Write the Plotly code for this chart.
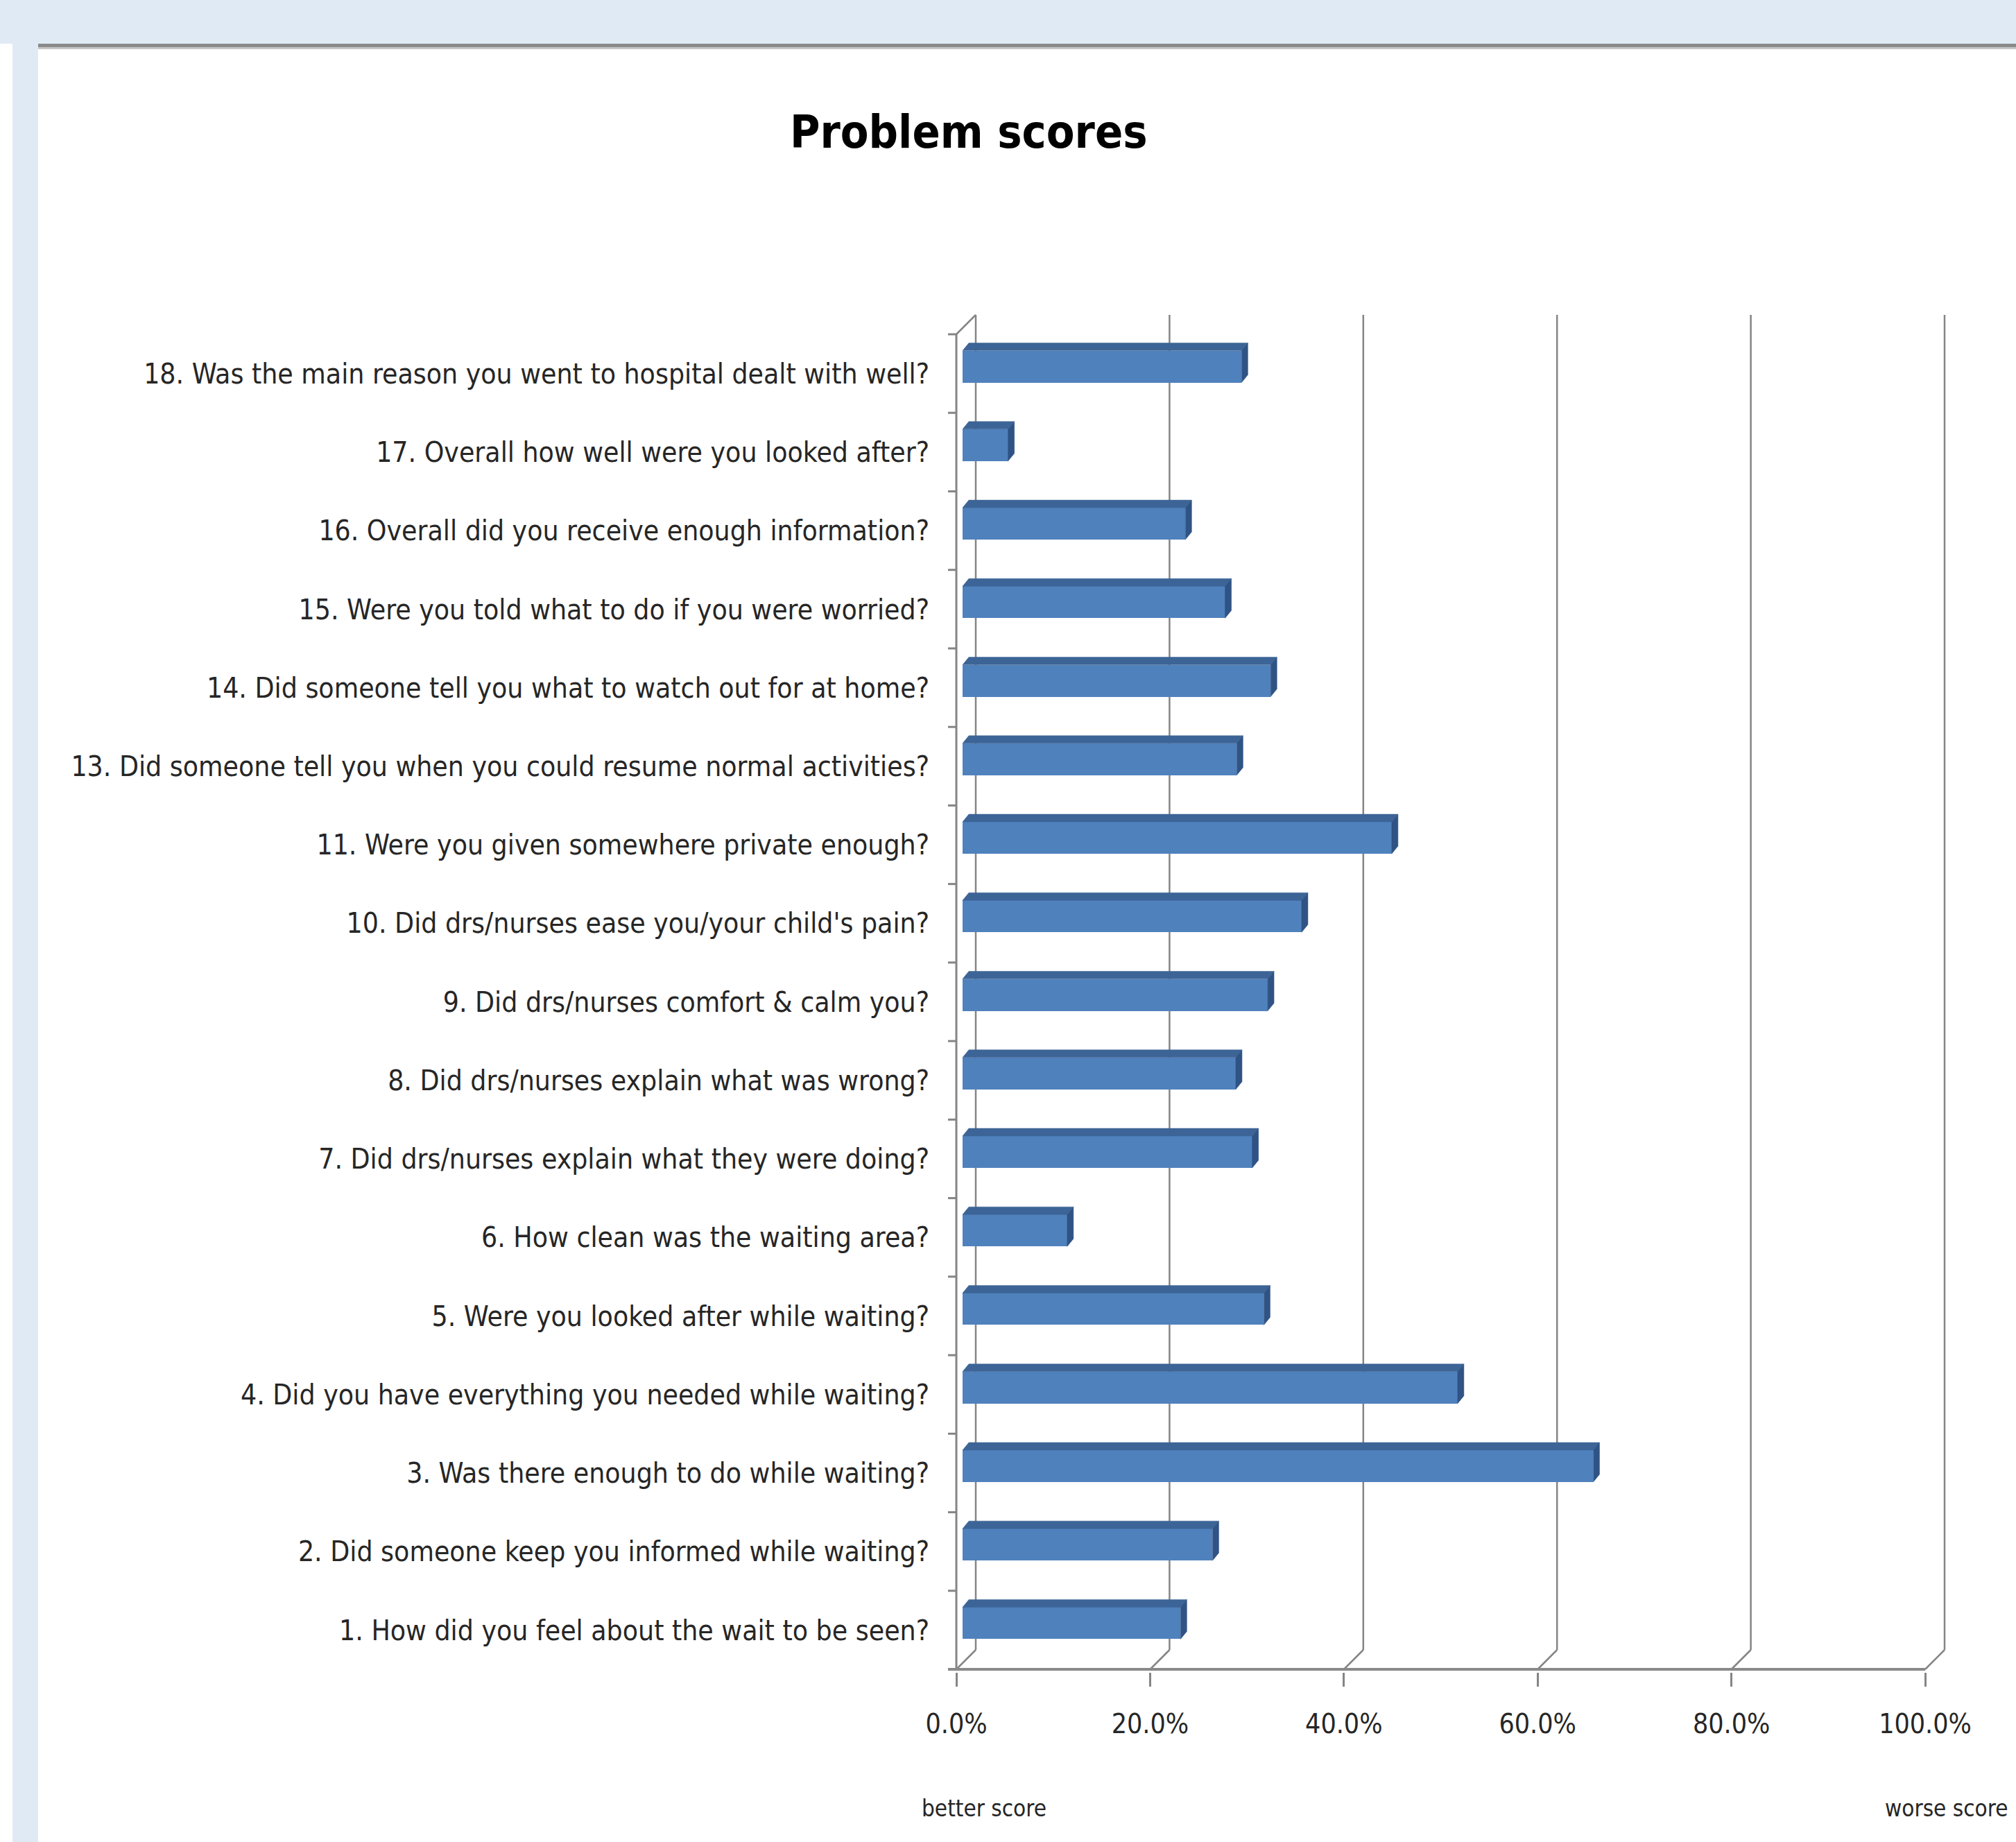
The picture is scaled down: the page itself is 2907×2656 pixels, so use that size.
import plotly.graph_objects as go

# ---------------- data ----------------
questions = [
    "1. How did you feel about the wait to be seen?",
    "2. Did someone keep you informed while waiting?",
    "3. Was there enough to do while waiting?",
    "4. Did you have everything you needed while waiting?",
    "5. Were you looked after while waiting?",
    "6. How clean was the waiting area?",
    "7. Did drs/nurses explain what they were doing?",
    "8. Did drs/nurses explain what was wrong?",
    "9. Did drs/nurses comfort & calm you?",
    "10. Did drs/nurses ease you/your child's pain?",
    "11. Were you given somewhere private enough?",
    "13. Did someone tell you when you could resume normal activities?",
    "14. Did someone tell you what to watch out for at home?",
    "15. Were you told what to do if you were worried?",
    "16. Overall did you receive enough information?",
    "17. Overall how well were you looked after?",
    "18. Was the main reason you went to hospital dealt with well?",
]
scores = [0.225, 0.258, 0.651, 0.511, 0.311, 0.108, 0.299, 0.282, 0.315,
          0.350, 0.443, 0.283, 0.318, 0.271, 0.230, 0.047, 0.288]
x_tick_vals = [0.0, 0.2, 0.4, 0.6, 0.8, 1.0]
x_tick_text = ["0.0%", "20.0%", "40.0%", "60.0%", "80.0%", "100.0%"]
title_text = "Problem scores"
left_note = "better score"
right_note = "worse score"

# ---------------- geometry ----------------
W, H = 2907, 2656
FONT = "DejaVu Sans Condensed, DejaVu Sans, sans-serif"
TEXT = "#262626"
GRID = "#858585"

X0_PX, X1_PX = 1379, 2776          # front plane 0% / 100%
Y_TOP_PX, Y_BOT_PX = 482, 2407     # front plane top / floor
n = len(questions)
PX_X = X1_PX - X0_PX
PX_Y = (Y_BOT_PX - Y_TOP_PX) / n

WALL_DX, WALL_DY = 28 / PX_X, 28 / PX_Y
BAR_OX, BAR_OY = 9 / PX_X, 10 / PX_Y
BAR_DX, BAR_DY = 9 / PX_X, 11 / PX_Y
BAR_H = 46 / PX_Y

L_PX, R_PX, T_PX, B_PX = 1351, 2846, 437, 2411
x_range = [(L_PX - X0_PX) / PX_X, (R_PX - X0_PX) / PX_X]
y_range = [-0.5 - (B_PX - Y_BOT_PX) / PX_Y, n - 0.5 + (Y_TOP_PX - T_PX) / PX_Y]


def px_x(px):
    return (px - L_PX) / (R_PX - L_PX)


def px_y(py):
    return (B_PX - py) / (B_PX - T_PX)


ypos = list(range(n))
bar_y = [y + BAR_OY for y in ypos]

fig = go.Figure()

# front faces
fig.add_trace(go.Bar(
    orientation="h", y=bar_y, x=scores, base=BAR_OX, width=BAR_H,
    marker=dict(color="#4F81BD", line=dict(width=0)),
    hoverinfo="skip", showlegend=False,
))

# top and side faces
top_x, top_y, side_x, side_y = [], [], [], []
for yc, v in zip(bar_y, scores):
    b = BAR_OX
    t = yc + BAR_H / 2
    bt = yc - BAR_H / 2
    top_x += [b, b + v, b + v + BAR_DX, b + BAR_DX, b, None]
    top_y += [t, t, t + BAR_DY, t + BAR_DY, t, None]
    side_x += [b + v, b + v + BAR_DX, b + v + BAR_DX, b + v, b + v, None]
    side_y += [t, t + BAR_DY, bt + BAR_DY, bt, t, None]

fig.add_trace(go.Scatter(x=top_x, y=top_y, fill="toself", mode="lines",
                         fillcolor="#3D6496", line=dict(width=0.5, color="#3D6496"),
                         hoverinfo="skip", showlegend=False))
fig.add_trace(go.Scatter(x=side_x, y=side_y, fill="toself", mode="lines",
                         fillcolor="#2F5384", line=dict(width=0.5, color="#2F5384"),
                         hoverinfo="skip", showlegend=False))

shapes = []
# back wall gridlines and floor slants
for v in x_tick_vals:
    shapes.append(dict(type="line", xref="x", yref="y", layer="below",
                       x0=v + WALL_DX, x1=v + WALL_DX,
                       y0=-0.5 + WALL_DY, y1=n - 0.5 + WALL_DY,
                       line=dict(color=GRID, width=2.5)))
    shapes.append(dict(type="line", xref="x", yref="y", layer="below",
                       x0=v, x1=v + WALL_DX, y0=-0.5, y1=-0.5 + WALL_DY,
                       line=dict(color=GRID, width=2.5)))
# left wall front edge and top slant
shapes.append(dict(type="line", xref="x", yref="y", layer="below",
                   x0=0, x1=0, y0=-0.5, y1=n - 0.5, line=dict(color=GRID, width=3)))
shapes.append(dict(type="line", xref="x", yref="y", layer="below",
                   x0=0, x1=WALL_DX, y0=n - 0.5, y1=n - 0.5 + WALL_DY,
                   line=dict(color=GRID, width=2.5)))
# category separator ticks
for k in range(n + 1):
    shapes.append(dict(type="line", xref="x", yref="y", layer="below",
                       x0=-12 / PX_X, x1=0, y0=k - 0.5, y1=k - 0.5,
                       line=dict(color=GRID, width=3)))
# floor front edge
shapes.append(dict(type="line", xref="x", yref="y", layer="above",
                   x0=-12 / PX_X, x1=1.0, y0=-0.5, y1=-0.5,
                   line=dict(color="#8A8A8A", width=4)))

# page decoration (paper coords are relative to the plot area)
shapes.append(dict(type="rect", xref="paper", yref="paper", layer="below",
                   x0=px_x(0), x1=px_x(W), y0=px_y(63), y1=px_y(0),
                   fillcolor="#DFEAF5", line=dict(width=0)))
shapes.append(dict(type="rect", xref="paper", yref="paper", layer="below",
                   x0=px_x(18), x1=px_x(55), y0=px_y(H), y1=px_y(0),
                   fillcolor="#DFEAF5", line=dict(width=0)))
shapes.append(dict(type="rect", xref="paper", yref="paper", layer="below",
                   x0=px_x(55), x1=px_x(W), y0=px_y(68), y1=px_y(63),
                   fillcolor="#8A8A8A", line=dict(width=0)))
shapes.append(dict(type="rect", xref="paper", yref="paper", layer="below",
                   x0=px_x(55), x1=px_x(W), y0=px_y(71), y1=px_y(68),
                   fillcolor="#C8C8C8", line=dict(width=0)))

annotations = [
    dict(text=f"<b>{title_text}</b>", xref="paper", yref="paper",
         x=px_x(1397), y=px_y(190), xanchor="center", yanchor="middle",
         showarrow=False, font=dict(family=FONT, size=66, color="#000000")),
    dict(text=left_note, xref="paper", yref="paper",
         x=px_x(1419), y=px_y(2607), xanchor="center", yanchor="middle",
         showarrow=False, font=dict(family=FONT, size=33, color=TEXT)),
    dict(text=right_note, xref="paper", yref="paper",
         x=px_x(2807), y=px_y(2607), xanchor="center", yanchor="middle",
         showarrow=False, font=dict(family=FONT, size=33, color=TEXT)),
]

fig.update_layout(
    width=W, height=H,
    margin=dict(l=L_PX, r=W - R_PX, t=T_PX, b=H - B_PX, autoexpand=False),
    paper_bgcolor="white", plot_bgcolor="rgba(0,0,0,0)",
    shapes=shapes, annotations=annotations, bargap=0,
    xaxis=dict(range=x_range, tickvals=x_tick_vals, ticktext=x_tick_text,
               ticks="outside", ticklen=20, tickwidth=2.5, tickcolor=GRID,
               showgrid=False, zeroline=False, showline=False,
               tickfont=dict(family=FONT, size=39, color=TEXT),
               ticklabelstandoff=20, fixedrange=True),
    yaxis=dict(range=y_range, tickvals=ypos, ticktext=questions,
               ticks="", showgrid=False, zeroline=False, showline=False,
               tickfont=dict(family=FONT, size=40.5, color=TEXT),
               ticklabelstandoff=10, fixedrange=True),
)

fig.write_html("out.html")
